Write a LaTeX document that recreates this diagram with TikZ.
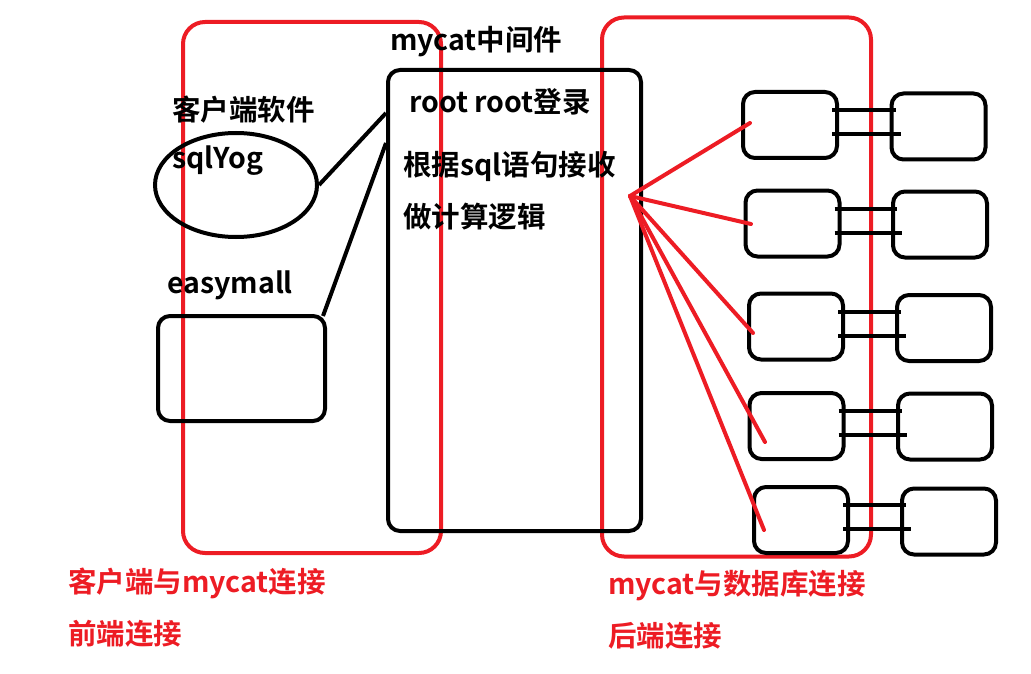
\documentclass[tikz,border=0pt]{standalone}
\usepackage{fontspec}
\usetikzlibrary{shapes.geometric}
\setmainfont{Noto Sans CJK SC}[BoldFont={Noto Sans CJK SC Bold}]
\definecolor{pred}{HTML}{ED1C24}
\tikzset{
  blk/.style={draw=black, line width=4pt, rounded corners=12pt, inner sep=0pt},
  redbox/.style={draw=pred, line width=4pt, rounded corners=22pt, inner sep=0pt},
  dbbox/.style={blk, minimum width=94pt, minimum height=66pt},
  lbl/.style={font=\bfseries\fontsize{28.5}{32}\selectfont, inner sep=0pt, anchor=west},
  rlbl/.style={lbl, text=pred},
  bline/.style={draw=black, line width=4pt},
  rline/.style={draw=pred, line width=4pt}
}
\begin{document}
\begin{tikzpicture}[x=1pt,y=-1pt]
\useasboundingbox (0,0) rectangle (1031,674);
% red grouping boxes
\node[redbox, minimum width=258pt, minimum height=531pt] (lg) at (312,287.5) {};
\node[redbox, minimum width=269pt, minimum height=539pt] (rg) at (736.5,287) {};
% mycat box
\node[blk, minimum width=253pt, minimum height=461pt] (mc) at (514.5,300.5) {};
% client shapes
\node[draw, line width=4pt, ellipse, minimum width=162pt, minimum height=104pt, inner sep=0pt] (sq) at (236,185) {};
\node[blk, minimum width=167pt, minimum height=105pt] (em) at (241.5,368.5) {};
% texts
\node[lbl] (t1) at (390,42) {mycat中间件};
\node[lbl] (t2) at (172,110) {客户端软件};
\node[lbl] (t3) at (172,161) {sqlYog};
\node[lbl] (t4) at (167,285) {easymall};
\node[lbl] (t5) at (409,102) {root root登录};
\node[lbl] (t6) at (403,166) {根据sql语句接收};
\node[lbl] (t7) at (403,217) {做计算逻辑};
\node[rlbl] (t8) at (68,583) {客户端与mycat连接};
\node[rlbl] (t9) at (68,634) {前端连接};
\node[rlbl] (t10) at (608,586) {mycat与数据库连接};
\node[rlbl] (t11) at (608,636) {后端连接};
% client connectors
\draw[bline] (sq.east) -- ([yshift=-45pt]mc.north west);
\draw[bline] ([xshift=-4pt,yshift=-2pt]em.north east) -- ([yshift=-75pt]mc.north west);
% database boxes
\node[dbbox] (L1) at (790,125) {};
\node[dbbox] (R1) at (938.5,126.5) {};
\node[dbbox] (L2) at (792.5,223.5) {};
\node[dbbox] (R2) at (940,224.5) {};
\node[dbbox] (L3) at (796,326.5) {};
\node[dbbox] (R3) at (944,328) {};
\node[dbbox] (L4) at (796.5,426) {};
\node[dbbox] (R4) at (945,426.5) {};
\node[dbbox] (L5) at (801,520) {};
\node[dbbox] (R5) at (949,521.5) {};
\foreach \i in {1,...,5}{
  \draw[bline] ([xshift=-7pt,yshift=15pt]L\i.east) -- ([xshift=6pt,yshift=15pt]R\i.west |- L\i.east);
  \draw[bline] ([xshift=-7pt,yshift=-9pt]L\i.east) -- ([xshift=11pt,yshift=-9pt]R\i.west |- L\i.east);
}
% red fan
\coordinate (o) at (630,196);
\coordinate (e1) at (750,123);
\coordinate (e2) at (751,224);
\coordinate (e3) at (753,333);
\coordinate (e4) at (765,442);
\coordinate (e5) at (764,530);
\foreach \i in {1,...,5}{
  \draw[rline, line cap=round] (o) -- (e\i);
}
\end{tikzpicture}
\end{document}
